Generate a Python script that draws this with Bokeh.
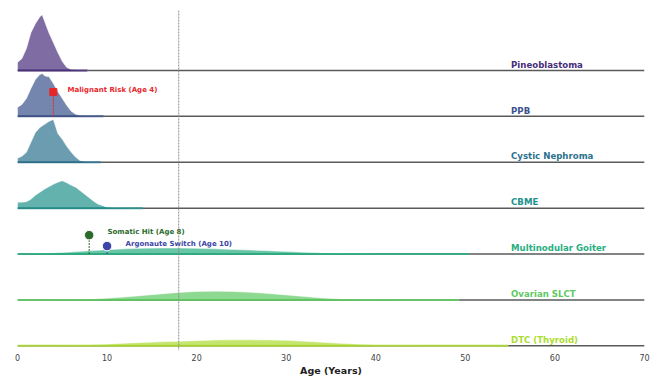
from bokeh.plotting import figure
from bokeh.models import Range1d, FixedTicker, Span, ColumnDataSource
from bokeh.core.properties import value
from bokeh.embed import file_html
from bokeh.resources import INLINE

# ---- data ----
names = ["Pineoblastoma", "PPB", "Cystic Nephroma", "CBME",
         "Multinodular Goiter", "Ovarian SLCT", "DTC (Thyroid)"]
colors = ["#472d7b", "#3b528b", "#2c728e", "#21918c", "#28ae80", "#5ec962", "#addc30"]

# ages (years) and relative density heights for each ridge
pineo_x = [0, 0.5, 1.0, 1.5, 2.0, 2.5, 2.75, 3.0, 3.5, 4.0, 4.5, 5.0, 5.5, 6.0, 7.0, 7.8]
pineo_d = [8, 12, 22, 38, 47, 54, 56, 50, 38, 28, 18, 9, 3, 1, 0.3, 0]

ppb_x = [0, 0.5, 1, 1.5, 2, 2.5, 2.75, 3, 3.25, 3.5, 4, 4.5, 5, 5.5, 6, 6.5, 7, 8, 9.6]
ppb_d = [9, 12, 18, 28, 37, 42, 43, 41, 40, 40, 33, 25, 18, 11, 5, 2, 0.8, 0.2, 0]

cyst_x = [0, 0.5, 1, 1.5, 2, 2.5, 3, 3.5, 4, 4.25, 4.5, 5, 5.5, 6, 6.5, 7, 8, 9.3]
cyst_d = [4, 6, 10, 20, 30, 35, 38, 41, 43, 36, 29, 23, 16, 10, 5, 1.5, 0.3, 0]

cbme_x = [0, 0.5, 1, 1.5, 2, 2.5, 3, 3.5, 4, 4.5, 5, 5.5, 6, 6.5, 7, 7.5, 8, 8.5, 9, 10, 12, 14]
cbme_d = [6, 6, 6.5, 9, 13, 16, 19, 21.5, 24, 26, 27.5, 25.5, 23, 21, 17.5, 14, 10.5, 7, 4, 1, 0.2, 0]

mng_x = [0, 2, 4, 6, 8, 10, 12, 14, 16, 18, 20, 22, 24, 26, 28, 30, 32, 34, 36, 40, 45, 50.4]
mng_d = [0.2, 0.5, 1, 2, 3.2, 4.3, 5.2, 5.8, 6, 6, 5.7, 5.2, 4.6, 4, 3.3, 2.5, 1.7, 1, 0.5, 0.15, 0.05, 0]

slct_x = [0, 4, 6, 8, 10, 12, 14, 16, 18, 20, 22, 24, 26, 28, 30, 32, 34, 36, 38, 42, 49.3]
slct_d = [0, 0.1, 0.3, 0.8, 1.8, 3, 4.5, 6, 7.5, 8.5, 8.8, 8.5, 7.6, 6.5, 5, 3.5, 2, 1, 0.4, 0.1, 0]

dtc_x = [0, 4, 6, 8, 10, 12, 14, 16, 18, 20, 22, 24, 26, 28, 30, 32, 34, 36, 38, 40, 42, 46, 50, 54.8]
dtc_d = [0, 0.1, 0.3, 0.8, 1.6, 2.6, 3.4, 4.0, 4.5, 5.2, 5.8, 6, 6, 5.9, 5.5, 4.7, 3.6, 2.5, 1.6, 0.9, 0.4, 0.1, 0.05, 0]

ridge_x = [pineo_x, ppb_x, cyst_x, cbme_x, mng_x, slct_x, dtc_x]
ridge_d = [pineo_d, ppb_d, cyst_d, cbme_d, mng_d, slct_d, dtc_d]

density_scale = 46.17   # density units per ridge spacing
age_ticks = [0, 10, 20, 30, 40, 50, 60, 70]
cutoff_age = 18

# annotations: (ridge, age, height, label, color)
ann_malig = ("PPB", 4, 24.5, "Malignant Risk (Age 4)", "#e8262a")
ann_somatic = ("Multinodular Goiter", 8, 19, "Somatic Hit (Age 8)", "#2b6b2b")
ann_argo = ("Multinodular Goiter", 10, 8, "Argonaute Switch (Age 10)", "#3a45a5")

# ---- figure ----
p = figure(width=656, height=378, output_backend="svg", toolbar_location=None,
           x_range=Range1d(0, 70), y_range=Range1d(-0.102, 7.306),
           min_border_left=17, min_border_right=12, min_border_top=10, min_border_bottom=26)
p.outline_line_color = None
p.grid.visible = False
p.yaxis.visible = False
p.background_fill_color = "white"

n = len(names)
base = {nm: (n - 1 - i) for i, nm in enumerate(names)}

for i, nm in enumerate(names):
    b = base[nm]
    xs = ridge_x[i]
    ys = [b + d / density_scale for d in ridge_d[i]]
    src = ColumnDataSource(dict(x=xs, y=ys, b=[b] * len(xs)))
    # full-width gray baseline
    p.line(x=[0, 70], y=[b, b], line_color="#5a5a5a", line_width=1.5)
    p.varea(x="x", y1="b", y2="y", source=src, fill_color=colors[i], fill_alpha=0.7)
    p.line(x="x", y="y", source=src, line_color="white", line_width=0.8, line_alpha=0.6)
    p.line(x=[xs[0], xs[-1]], y=[b, b], line_color=colors[i], line_width=2, line_alpha=0.85)
    p.text(x=[55.1], y=[b + 5.8 / density_scale], text=[nm], text_color=colors[i],
           text_font=value("DejaVu Sans"), text_font_style="bold",
           text_font_size="8.6px", text_baseline="alphabetic", text_align="left")

# cutoff line
p.add_layout(Span(location=cutoff_age, dimension="height", line_color="#8c8c8c",
                  line_width=1, line_dash="2 1"))

def annotate(ann, marker, size, text_dx, text_dy):
    nm, age, h, label, col = ann
    b = base[nm]
    y = b + h / density_scale
    p.line(x=[age, age], y=[b, y], line_color=col, line_width=1, line_dash="2 1")
    p.scatter(x=[age], y=[y], marker=marker, size=size, fill_color=col,
              line_color="white" if marker == "circle" else col, line_width=1)
    p.text(x=[age + text_dx], y=[y + text_dy / density_scale], text=[label],
           text_color=col, text_font=value("DejaVu Sans"), text_font_style="bold",
           text_font_size="7px", text_baseline="middle", text_align="left")

annotate(ann_malig, "square", 7, 1.58, 1.5)
annotate(ann_somatic, "circle", 9.5, 2.05, 2.7)
annotate(ann_argo, "circle", 9.5, 2.06, 2.2)

# x axis
p.xaxis.ticker = FixedTicker(ticks=age_ticks)
p.xaxis.axis_line_color = None
p.xaxis.major_tick_line_color = None
p.xaxis.minor_tick_line_color = None
p.xaxis.major_tick_out = 0
p.xaxis.major_tick_in = 0
p.xaxis.minor_tick_out = 0
p.xaxis.minor_tick_in = 0
p.xaxis.major_label_text_font = "DejaVu Sans"
p.xaxis.major_label_text_font_size = "8px"
p.xaxis.major_label_text_color = "#444444"
p.xaxis.major_label_standoff = 3
p.xaxis.axis_label = "Age (Years)"
p.xaxis.axis_label_text_font = "DejaVu Sans"
p.xaxis.axis_label_text_font_style = "bold"
p.xaxis.axis_label_text_font_size = "9.5px"
p.xaxis.axis_label_text_color = "#222222"
p.xaxis.axis_label_standoff = 1

open("out.html", "w").write(file_html(p, INLINE))
